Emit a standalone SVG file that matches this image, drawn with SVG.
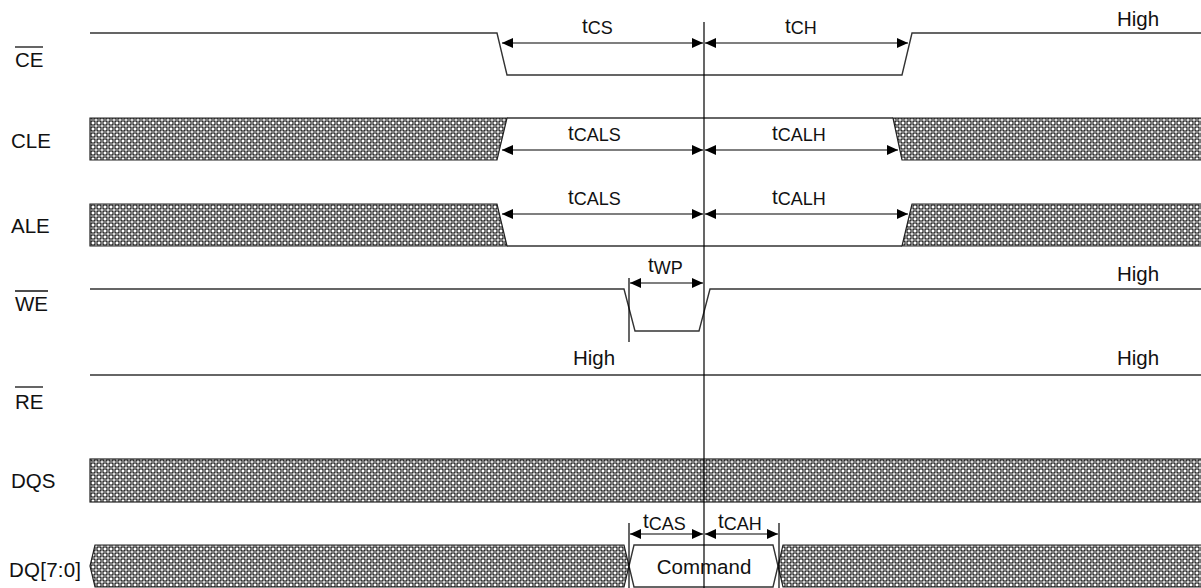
<svg xmlns="http://www.w3.org/2000/svg" width="1201" height="588" viewBox="0 0 1201 588">
<defs>
<pattern id="hatch" width="6" height="6" patternUnits="userSpaceOnUse">
<rect width="6" height="6" fill="#7a7a7a"/>
<path d="M0,0 L6,6 M6,0 L0,6" stroke="#2e2e2e" stroke-width="1"/>
<rect x="2" y="2" width="2" height="2" fill="#ffffff"/>
<rect x="-1" y="-1" width="2" height="2" fill="#d8d8d8"/>
<rect x="5" y="5" width="2" height="2" fill="#d8d8d8"/>
<rect x="5" y="-1" width="2" height="2" fill="#d8d8d8"/>
<rect x="-1" y="5" width="2" height="2" fill="#d8d8d8"/>
</pattern>
<marker id="ah" markerWidth="12" markerHeight="10" refX="11" refY="5" orient="auto-start-reverse" markerUnits="userSpaceOnUse">
<path d="M0,0 L11,5 L0,10 Z" fill="#000"/>
</marker>
</defs>
<style>
.sig{fill:none;stroke:#333;stroke-width:1.4}
.hz{fill:url(#hatch);stroke:#222;stroke-width:1.2}
.lbl{font-family:"Liberation Sans",Arial,sans-serif;font-size:20.5px;fill:#111}
.sub{font-size:18px}
.dim{stroke:#000;stroke-width:1.2;fill:none;marker-start:url(#ah);marker-end:url(#ah)}
.tick{stroke:#000;stroke-width:1.2}
.ol{stroke:#111;stroke-width:1.3}
</style>

<g id="label-ce"><text class="lbl" x="15" y="67">CE</text><line class="ol" x1="15" y1="47" x2="43" y2="47"/></g>
<g id="label-cle"><text class="lbl" x="11" y="148">CLE</text></g>
<g id="label-ale"><text class="lbl" x="11" y="233">ALE</text></g>
<g id="label-we"><text class="lbl" x="15" y="311">WE</text><line class="ol" x1="15" y1="291" x2="48" y2="291"/></g>
<g id="label-re"><text class="lbl" x="15" y="409">RE</text><line class="ol" x1="15" y1="387" x2="43" y2="387"/></g>
<g id="label-dqs"><text class="lbl" x="11" y="488">DQS</text></g>
<g id="label-dq"><text class="lbl" x="9" y="577" textLength="72">DQ[7:0]</text></g>

<g id="sig-ce">
<polyline class="sig" points="90,33 497,33 507,75 902,75 912,33 1201,33"/>
<text class="lbl" x="1117" y="26">High</text>
</g>
<g id="sig-cle">
<polygon class="hz" points="90,118 507,118 497,160 90,160"/>
<polygon class="hz" points="893,118 1202,118 1202,160 902,160"/>
<line class="sig" x1="507" y1="118" x2="893" y2="118"/>
</g>
<g id="sig-ale">
<polygon class="hz" points="90,204 497,204 507,246 90,246"/>
<polygon class="hz" points="912,204 1202,204 1202,246 902,246"/>
<line class="sig" x1="507" y1="246" x2="902" y2="246"/>
</g>
<g id="sig-we">
<polyline class="sig" points="90,289 624,289 635,331 699,331 710,289 1201,289"/>
<text class="lbl" x="1117" y="281">High</text>
</g>
<g id="sig-re">
<line class="sig" x1="90" y1="375" x2="1201" y2="375"/>
<text class="lbl" x="573" y="365">High</text>
<text class="lbl" x="1117" y="365">High</text>
</g>
<g id="sig-dqs">
<rect class="hz" x="90" y="459" width="1112" height="43"/>
</g>
<g id="sig-dq">
<polygon class="hz" points="95,545 624,545 629,566 624,587 95,587 90,566"/>
<polygon class="sig" style="fill:#fff" points="634,545 773,545 778,566 773,587 634,587 629,566"/>
<polygon class="hz" points="783,545 1202,545 1202,587 783,587 778,566"/>
<text class="lbl" x="704" y="574" text-anchor="middle">Command</text>
</g>

<g id="connectors">
<line class="tick" x1="704" y1="22" x2="704" y2="588"/>
<line class="tick" x1="629" y1="278" x2="629" y2="342"/>
<line class="tick" x1="629" y1="523" x2="629" y2="588"/>
<line class="tick" x1="779" y1="523" x2="779" y2="588"/>
<line class="dim" x1="502" y1="43" x2="703" y2="43"/>
<line class="dim" x1="705" y1="43" x2="908" y2="43"/>
<line class="dim" x1="502" y1="150" x2="703" y2="150"/>
<line class="dim" x1="705" y1="150" x2="898" y2="150"/>
<line class="dim" x1="502" y1="214" x2="703" y2="214"/>
<line class="dim" x1="705" y1="214" x2="908" y2="214"/>
<line class="dim" x1="630" y1="283" x2="703" y2="283"/>
<line class="dim" x1="630" y1="534" x2="703" y2="534"/>
<line class="dim" x1="705" y1="534" x2="778" y2="534"/>
</g>

<g id="timing-labels">
<text class="lbl" x="582" y="33">t<tspan class="sub" dy="1">CS</tspan></text>
<text class="lbl" x="785" y="33">t<tspan class="sub" dy="1">CH</tspan></text>
<text class="lbl" x="568" y="140">t<tspan class="sub" dy="1">CALS</tspan></text>
<text class="lbl" x="772" y="140">t<tspan class="sub" dy="1">CALH</tspan></text>
<text class="lbl" x="568" y="204">t<tspan class="sub" dy="1">CALS</tspan></text>
<text class="lbl" x="772" y="204">t<tspan class="sub" dy="1">CALH</tspan></text>
<text class="lbl" x="648" y="272">t<tspan class="sub" dy="2">WP</tspan></text>
<text class="lbl" x="643" y="528">t<tspan class="sub" dy="2">CAS</tspan></text>
<text class="lbl" x="718" y="528">t<tspan class="sub" dy="2">CAH</tspan></text>
</g>
</svg>
